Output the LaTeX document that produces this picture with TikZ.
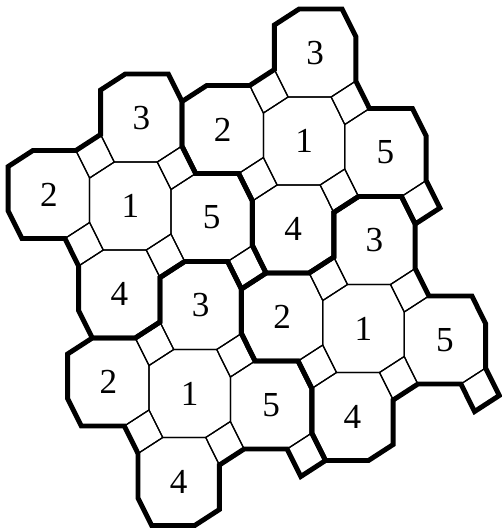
\documentclass[tikz,border=0pt]{standalone}
\usepackage{fontspec}
\setmainfont{Liberation Serif}
\usepackage{tikz}

\tikzset{
  cell/.style={line width=0.7pt},
  rim/.style={line width=2.8pt},
  num/.style={font=\fontsize{20}{24}\selectfont, inner sep=0pt}
}

\newcommand{\octpath}{(-16,-44) -- (27,-44) -- (40.7,-16.5) -- (40.7,28) -- (16,44) -- (-27,44) -- (-40.7,16.5) -- (-40.7,-28) -- cycle}
\newcommand{\sqgap}{(40.7,28) -- (16,44) -- (29.7,71.5) -- (54.4,55.5) -- cycle}

\begin{document}
\begin{tikzpicture}[x=0.02cm, y=-0.02cm]
\useasboundingbox (0,0) rectangle (502,529);

\foreach \t/\cx/\cy in {a/130.3/206, b/304.1/141, c/189.7/393.5, d/363.5/328.5} {
  \begin{scope}[shift={(\cx,\cy)}]
    \foreach \dx/\dy in {0/0, -70.4/-99.5, 11/-88, -81.4/-11.5, 81.4/11.5}
      \draw[cell, shift={(\dx,\dy)}] \sqgap;
    \foreach \n/\dx/\dy in {1/0/0, 2/-81.4/-11.5, 3/11/-88, 4/-11/88, 5/81.4/11.5} {
      \draw[cell, shift={(\dx,\dy)}] \octpath;
      \node[num] (\t\n) at (\dx,\dy) {\n};
    }
    \draw[rim] (-29.7,-71.5) -- (-29.7,-116) -- (-5,-132) -- (38,-132) -- (51.7,-104.5) -- (51.7,-60)
      -- (65.4,-32.5) -- (108.4,-32.5) -- (122.1,-5) -- (122.1,39.5) -- (135.8,67) -- (111.1,83)
      -- (97.4,55.5) -- (54.4,55.5) -- (29.7,71.5) -- (29.7,116) -- (5,132) -- (-38,132)
      -- (-51.7,104.5) -- (-51.7,60) -- (-65.4,32.5) -- (-108.4,32.5) -- (-122.1,5) -- (-122.1,-39.5)
      -- (-97.4,-55.5) -- (-54.4,-55.5) -- cycle;
  \end{scope}
}

\end{tikzpicture}
\end{document}
